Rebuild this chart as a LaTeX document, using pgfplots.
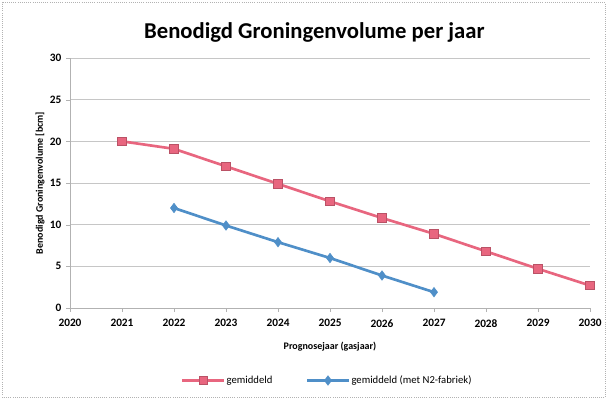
\documentclass[border=0pt]{standalone}
\usepackage{pgfplots}
\pgfplotsset{compat=1.18}
\usepackage{fontspec}
\setmainfont{Carlito}
\definecolor{myred}{HTML}{E8667F}
\definecolor{myblue}{HTML}{4F8FC8}
\begin{document}
\begin{tikzpicture}
\useasboundingbox (-52.5pt,-69pt) rectangle (403.5pt,231pt);
\draw[gray!60, densely dotted, line width=0.6pt] (-50.5pt,-67pt) rectangle (401.5pt,229pt);
\begin{axis}[
  at={(0,0)}, anchor=south west,
  scale only axis, width=390pt, height=187.5pt,
  xmin=2020, xmax=2030, ymin=0, ymax=30,
  xtick={2020,2021,...,2030}, ytick={0,5,...,30},
  xticklabel style={/pgf/number format/1000 sep={}, font=\bfseries\fontsize{8.5}{9}\selectfont, yshift=-2pt},
  yticklabel style={font=\bfseries\fontsize{8.5}{9}\selectfont},
  /pgf/number format/assume math mode=true,
  ymajorgrids, grid style={gray!45, line width=0.5pt},
  axis x line*=bottom, axis y line*=left,
  axis line style={gray!60},
  x axis line style={-}, y axis line style={-},
  tick style={gray!60}, major tick length=3pt,
  xtick align=outside, ytick align=outside,
  title={\bfseries\fontsize{17}{19}\selectfont Benodigd Groningenvolume per jaar},
  title style={at={(0.47,1)}, anchor=south, yshift=2pt},
  xlabel={\bfseries\fontsize{7.5}{8}\selectfont Prognosejaar (gasjaar)},
  ylabel={\bfseries\fontsize{7.5}{8}\selectfont Benodigd Groningenvolume [bcm]},
  xlabel style={yshift=-4pt},
  ylabel style={yshift=-3pt},
  legend style={at={(0.494,-0.29)}, anchor=center, draw=none, legend columns=2,
    font=\fontsize{8}{9}\selectfont, nodes={inner sep=1pt},
    /tikz/every even column/.append style={column sep=24pt}},
  legend image code/.code={
    \draw[#1, mark repeat=2, mark phase=2] plot coordinates {(0cm,0cm) (0.55cm,0cm) (1.1cm,0cm)};
  },
]
\addplot[myred, line width=2pt, mark=square*, mark size=3.2pt, mark options={fill=myred, draw=myred!80!black, line width=0.5pt}]
  coordinates {(2021,20.0) (2022,19.1) (2023,17.0) (2024,14.9) (2025,12.8) (2026,10.8) (2027,8.9) (2028,6.8) (2029,4.7) (2030,2.7)};
\addlegendentry{gemiddeld}
\addplot[myblue, line width=2pt, mark=diamond*, mark size=3.5pt, mark options={fill=myblue, draw=myblue, line width=0.5pt}]
  coordinates {(2022,12.0) (2023,9.9) (2024,7.9) (2025,6.0) (2026,3.9) (2027,1.9)};
\addlegendentry{gemiddeld (met N2-fabriek)}
\end{axis}
\end{tikzpicture}
\end{document}
